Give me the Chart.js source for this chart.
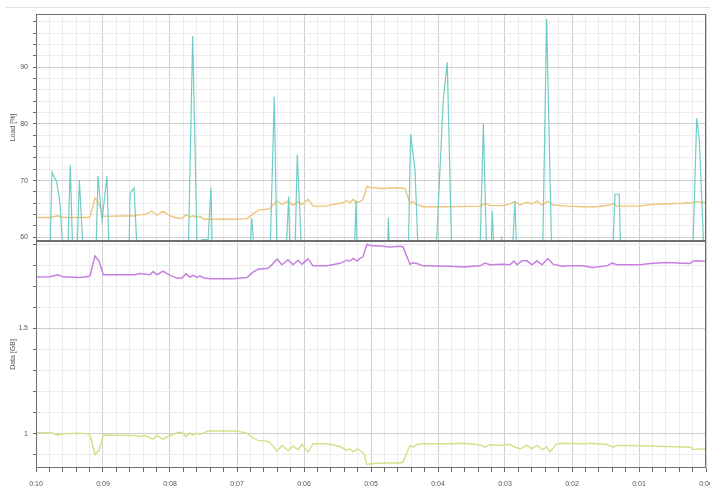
<!DOCTYPE html>
<html>
<head>
<meta charset="utf-8">
<script src="https://cdn.jsdelivr.net/npm/chart.js@4/dist/chart.umd.min.js"></script>
<style>
  html, body { margin: 0; padding: 0; background: #fff; }
  #wrap { position: relative; width: 710px; height: 489px; overflow: hidden; background: #fff; }
  #rule { position: absolute; left: 6px; top: 7px; width: 704px; height: 1px; background: #e2e2e2; }
  #loadCanvas { position: absolute; left: 0; top: 0; }
  #dataCanvas { position: absolute; left: 0; top: 240px; }
</style>
</head>
<body>
<div id="wrap">
  <div id="rule"></div>
  <canvas id="loadCanvas" width="710" height="242"></canvas>
  <canvas id="dataCanvas" width="710" height="249"></canvas>
</div>
<script>
// Time axis: seconds remaining, 600 (0:10) on the left down to 0 (0:00)
const timeMin = 0;
const timeMax = 600;
const minorStep = 12;

// Load [%] — peak load (bursty, mostly below the visible range)
const peakTimes = [600, 587.5, 585.7, 581.5, 578.5, 575.8,
  571.6, 569.3, 567.1,
  563.3, 561.2, 557.6,
  546.3, 544.5, 540.9, 536.4, 534.6,
  516.7, 515.8, 512.2, 509.3,
  463.6, 459.7, 455.6,
  452, 451.5, 447.5, 447,
  446.6, 443.3, 442.1,
  408.4, 406.8, 404.5,
  390.4, 386.6, 384.2,
  376.1, 373.7, 372.5,
  368.1, 366, 362.1,
  315, 313.4, 312.3,
  285.1, 284.5, 283.5,
  266.6, 264.5, 260.6, 257.7,
  241.8, 235.3, 231.7, 227.7,
  202.4, 199.4, 196.4,
  192.5, 191.4, 189.9,
  183.5, 183, 182.5,
  173.5, 171.1, 169.5,
  146.3, 142.7, 138.2,
  83.6, 81.5, 77.7, 76.4,
  11.9, 8.3, 6.0, 1.8, 0];
const peakLoad = [57, 57, 71.5, 69.8, 66, 57,
  57, 72.7, 57,
  57, 70.1, 57,
  57, 70.8, 63, 70.8, 57,
  57, 67.8, 68.7, 57,
  57, 95.5, 57,
  57, 59.6, 59.6, 57,
  57, 68.8, 57,
  57, 63.4, 57,
  57, 84.8, 57,
  57, 67.2, 57,
  57, 74.6, 57,
  57, 66.5, 57,
  57, 63.4, 57,
  57, 78.2, 71.9, 57,
  57, 84.2, 90.9, 57,
  57, 80.0, 57,
  57, 64.6, 57,
  57, 60.2, 57,
  57, 66.3, 57,
  57, 98.5, 57,
  57, 67.6, 67.6, 57,
  57, 81.0, 77.2, 57, 57];

// Load [%] — average load
const avgTimes = [600, 587.5, 580.3, 575.8, 553.4, 551.6, 547.2, 544.5, 539.7, 511.3,
  506.9, 502.4, 496.4, 491.6, 486.3, 480, 473.7, 469.3, 465.7, 462.1,
  459.4, 455.8, 453.1, 449.6, 435.2, 423.6, 411.1, 405.7, 401.2, 391.3,
  384.2, 379.7, 374.3, 369.9, 365.4, 361.8, 356.4, 352, 339.4, 334.1,
  325.1, 321.5, 318.8, 316.1, 313.4, 309.9, 307.2, 303.6, 300.9, 289.3,
  280.3, 272.2, 269.6, 265.1, 262.4, 260.6, 253.4, 229.3, 202.4, 197.9,
  193.4, 181.8, 175.5, 171.1, 166.6, 160.3, 155.8, 151.4, 146.9, 141.5,
  137, 124.5, 110.2, 97.6, 86, 83.3, 79.8, 59.1, 50.2, 20.6,
  11.7, 8.1, 0];
const avgLoad = [63.5, 63.5, 63.8, 63.5, 63.5, 63.6, 66.9, 66.3, 63.7, 63.8,
  64.0, 64.0, 64.6, 63.9, 64.6, 63.8, 63.4, 63.3, 64.0, 63.6,
  63.8, 63.5, 63.7, 63.2, 63.2, 63.2, 63.3, 64.1, 64.8, 65.0,
  66.4, 65.8, 66.4, 65.7, 66.3, 65.8, 66.7, 65.5, 65.5, 65.8,
  66.1, 66.5, 66.1, 66.7, 66.1, 66.3, 66.7, 69.0, 68.8, 68.6,
  68.7, 68.7, 68.6, 66.0, 66.3, 65.9, 65.4, 65.4, 65.5, 66.0,
  65.6, 65.6, 65.9, 66.3, 65.7, 66.2, 65.9, 66.4, 65.7, 66.4,
  65.7, 65.5, 65.4, 65.4, 65.7, 66.0, 65.5, 65.5, 65.8, 66.0,
  66.1, 66.3, 66.1];

// Data [GB] — upper series
const upperTimes = [600, 587.5, 580.3, 575.8, 560.6, 553.4, 551.6, 547.2, 543.6, 539.7,
  511.3, 506.9, 497.9, 495.2, 491.6, 486.3, 480, 473.7, 469.3, 465.7,
  462.1, 459.4, 455.8, 453.1, 449.6, 444.2, 423.6, 411.1, 405.7, 401.2,
  393.1, 390.4, 384.2, 379.7, 374.3, 369.9, 365.4, 361.8, 356.4, 352,
  339.4, 327.8, 321.5, 318.8, 316.1, 312.3, 309.9, 307.2, 303.6, 300.9,
  289.3, 283, 274, 271.4, 265.1, 262.4, 258.8, 253.4, 229.3, 217.6,
  202.4, 197.9, 193.4, 181.8, 175.5, 172, 169.3, 164.8, 160.3, 155.8,
  151.4, 146.9, 141.5, 137, 128.1, 124.5, 110.2, 102.1, 88.7, 84.2,
  79.8, 59.1, 50.2, 35, 20.6, 14.3, 11.7, 8.1, 0];
const upperData = [1.744, 1.745, 1.755, 1.745, 1.742, 1.746, 1.75, 1.844, 1.82, 1.755,
  1.755, 1.761, 1.755, 1.77, 1.755, 1.772, 1.752, 1.739, 1.739, 1.759,
  1.744, 1.752, 1.742, 1.75, 1.739, 1.736, 1.736, 1.742, 1.767, 1.781,
  1.784, 1.793, 1.829, 1.802, 1.826, 1.802, 1.824, 1.805, 1.83, 1.798,
  1.798, 1.809, 1.824, 1.82, 1.832, 1.82, 1.833, 1.84, 1.9, 1.894,
  1.89, 1.886, 1.89, 1.888, 1.805, 1.812, 1.808, 1.797, 1.795, 1.792,
  1.797, 1.81, 1.802, 1.805, 1.802, 1.82, 1.802, 1.821, 1.821, 1.802,
  1.821, 1.802, 1.832, 1.805, 1.794, 1.798, 1.797, 1.789, 1.797, 1.81,
  1.802, 1.802, 1.808, 1.813, 1.81, 1.808, 1.82, 1.821, 1.818];

// Data [GB] — lower series
const lowerTimes = [600, 587.5, 584.8, 580.3, 575.8, 560.6, 553.4, 551.6, 547.2, 543.6,
  539.7, 511.3, 506.9, 502.4, 495.2, 491.6, 486.3, 480, 473.7, 469.3,
  465.7, 462.1, 459.4, 455.8, 453.1, 446, 420, 411.1, 405.7, 401.2,
  393.1, 390.4, 384.2, 379.7, 374.3, 369.9, 365.4, 361.8, 356.4, 352,
  339.4, 327.8, 321.5, 318.8, 316.1, 312.3, 309.9, 306.3, 303.6, 300.9,
  289.3, 274, 271.4, 265.1, 262.4, 258.8, 253.4, 229.3, 217.6, 202.4,
  197.9, 193.4, 181.8, 175.5, 172.6, 166.6, 160.6, 156.1, 151.6, 146.3,
  142.7, 139.7, 133.7, 127.8, 109.9, 103.9, 88.9, 83, 80, 59.1,
  35.1, 14.3, 11.4, 0];
const lowerData = [1.005, 1.005, 1.003, 0.993, 1.0, 1.003, 1.0, 0.992, 0.902, 0.921,
  0.995, 0.992, 0.987, 0.992, 0.975, 0.992, 0.975, 0.992, 1.005, 1.008,
  0.987, 1.003, 0.995, 1.003, 0.997, 1.013, 1.013, 1.003, 0.981, 0.969,
  0.965, 0.96, 0.918, 0.945, 0.921, 0.942, 0.925, 0.95, 0.915, 0.953,
  0.953, 0.94, 0.921, 0.929, 0.915, 0.929, 0.921, 0.906, 0.855, 0.858,
  0.862, 0.862, 0.866, 0.945, 0.937, 0.95, 0.953, 0.953, 0.956, 0.948,
  0.937, 0.948, 0.946, 0.95, 0.94, 0.929, 0.945, 0.929, 0.945, 0.925,
  0.937, 0.915, 0.953, 0.956, 0.953, 0.956, 0.95, 0.937, 0.945, 0.943,
  0.94, 0.937, 0.926, 0.929];

const toPoints = (xs, ys) => xs.map((x, i) => ({ x, y: ys[i] }));
const minuteLabel = v => '0:' + String(Math.round(v / 60)).padStart(2, '0');

const GRID_MAJOR = '#cfcfcf';
const GRID_MINOR = '#ececec';
const TICK_COLOR = '#6a6a6a';

Chart.defaults.font.family = '"Liberation Sans", Arial, sans-serif';
Chart.defaults.font.size = 7;
Chart.defaults.color = '#555';

// Dark frame around each plot area
const framePlugin = {
  id: 'plotFrame',
  afterDatasetsDraw(chart) {
    const { ctx, chartArea: a } = chart;
    ctx.save();
    ctx.strokeStyle = '#6e6e6e';
    ctx.lineWidth = 1;
    const l = Math.round(a.left) + 0.5, t = Math.round(a.top) + 0.5;
    const r = Math.round(a.right) - 0.5, b = Math.round(a.bottom) - 0.5;
    ctx.strokeRect(l, t, r - l, b - t);
    ctx.restore();
  }
};

function timeAxis(showLabels) {
  return {
    type: 'linear',
    min: timeMin,
    max: timeMax,
    reverse: true,
    afterFit: s => {
      s.height = showLabels ? 21 : 0;
      s.paddingLeft = 0; s.paddingRight = 0;
    },
    ticks: {
      display: showLabels,
      stepSize: minorStep,
      autoSkip: false,
      maxRotation: 0,
      includeBounds: false,
      padding: 8,
      callback: v => (v % 60 === 0 ? minuteLabel(v) : '')
    },
    grid: {
      color: c => (c.tick && c.tick.value % 60 === 0 ? GRID_MAJOR : GRID_MINOR),
      drawTicks: showLabels,
      tickLength: 4,
      tickColor: TICK_COLOR,
      lineWidth: 1
    },
    border: { display: false }
  };
}

function valueAxis(min, max, step, isMajor, label, title) {
  return {
    type: 'linear',
    min, max,
    afterFit: s => {
      s.width = 36;
      s.paddingTop = 0; s.paddingBottom = 0;
    },
    title: { display: true, text: title, color: '#555', font: { size: 7 }, padding: { top: 9, bottom: 0 } },
    ticks: {
      stepSize: step,
      autoSkip: false,
      includeBounds: false,
      padding: 5,
      callback: v => (isMajor(v) ? label(v) : '')
    },
    grid: {
      color: c => (c.tick && isMajor(c.tick.value) ? GRID_MAJOR : GRID_MINOR),
      tickLength: 3,
      tickColor: TICK_COLOR,
      lineWidth: 1
    },
    border: { display: false }
  };
}

const lineStyle = (color, width) => ({
  borderColor: color,
  backgroundColor: color,
  borderWidth: width,
  pointRadius: 0,
  tension: 0,
  fill: false
});

new Chart(document.getElementById('loadCanvas'), {
  type: 'line',
  data: {
    datasets: [
      Object.assign({ label: 'Peak', data: toPoints(peakTimes, peakLoad) }, lineStyle('#70cdc6', 1.2)),
      Object.assign({ label: 'Average', data: toPoints(avgTimes, avgLoad) }, lineStyle('#ebc67b', 1.4))
    ]
  },
  options: {
    responsive: false,
    animation: false,
    devicePixelRatio: 1,
    layout: { padding: { top: 14, right: 4, bottom: 1, left: 0 } },
    plugins: { legend: { display: false }, tooltip: { enabled: false } },
    scales: {
      x: timeAxis(false),
      y: valueAxis(59.35, 99.4, 2,
        v => Math.abs(v % 10) < 1e-6,
        v => String(Math.round(v)),
        'Load [%]')
    }
  },
  plugins: [framePlugin]
});

new Chart(document.getElementById('dataCanvas'), {
  type: 'line',
  data: {
    datasets: [
      Object.assign({ label: 'Upper', data: toPoints(upperTimes, upperData) }, lineStyle('#c77fe0', 1.5)),
      Object.assign({ label: 'Lower', data: toPoints(lowerTimes, lowerData) }, lineStyle('#d3e38d', 1.5))
    ]
  },
  options: {
    responsive: false,
    animation: false,
    devicePixelRatio: 1,
    layout: { padding: { top: 1, right: 4, bottom: 0, left: 0 } },
    plugins: { legend: { display: false }, tooltip: { enabled: false } },
    scales: {
      x: timeAxis(true),
      y: valueAxis(0.838, 1.915, 0.1,
        v => Math.abs(v * 2 - Math.round(v * 2)) < 1e-6,
        v => String(Math.round(v * 10) / 10),
        'Data [GB]')
    }
  },
  plugins: [framePlugin]
});
</script>
</body>
</html>
